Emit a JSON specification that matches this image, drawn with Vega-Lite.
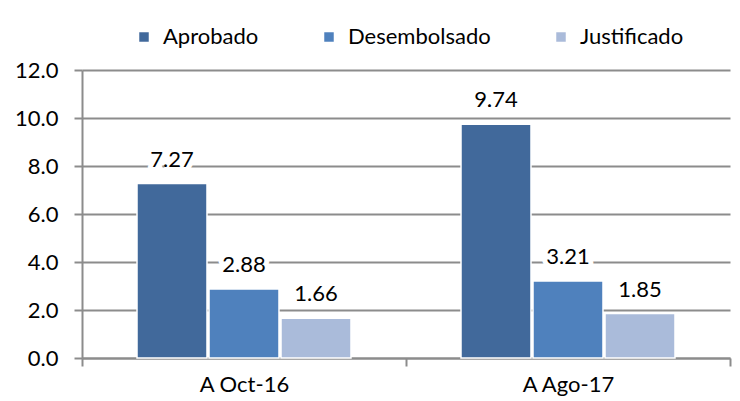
{
  "$schema": "https://vega.github.io/schema/vega-lite/v6.json",
  "width": 648,
  "height": 288,
  "padding": {"left": 14, "top": 26, "right": 10, "bottom": 5},
  "background": "white",
  "config": {
    "font": "Lato",
    "view": {"stroke": null},
    "axis": {"labelFont": "Lato", "labelFontSize": 22, "labelColor": "#000000", "domainColor": "#8c8c8c", "tickColor": "#8c8c8c", "gridColor": "#8c8c8c", "domainWidth": 2, "tickWidth": 2, "gridWidth": 2}
  },
  "data": {
    "values": [
      {"periodo": "A Oct-16", "serie": "Aprobado", "valor": 7.27},
      {"periodo": "A Oct-16", "serie": "Desembolsado", "valor": 2.88},
      {"periodo": "A Oct-16", "serie": "Justificado", "valor": 1.66},
      {"periodo": "A Ago-17", "serie": "Aprobado", "valor": 9.74},
      {"periodo": "A Ago-17", "serie": "Desembolsado", "valor": 3.21},
      {"periodo": "A Ago-17", "serie": "Justificado", "valor": 1.85}
    ]
  },
  "encoding": {
    "x": {"field": "periodo", "type": "nominal", "sort": ["A Oct-16", "A Ago-17"], "title": null,
      "scale": {"paddingInner": 0, "paddingOuter": 0},
      "axis": {"labelAngle": 0, "tickBand": "extent", "tickSize": 8, "labelPadding": 8, "grid": false, "domain": true}},
    "xOffset": {"field": "serie", "type": "nominal", "sort": ["Aprobado", "Desembolsado", "Justificado"],
      "scale": {"paddingInner": 0.028, "paddingOuter": 0.764}},
    "y": {"field": "valor", "type": "quantitative", "title": null,
      "scale": {"domain": [0, 12], "nice": false},
      "axis": {"values": [0, 2, 4, 6, 8, 10, 12], "format": ".1f", "tickSize": 8, "labelPadding": 16, "grid": true, "domain": true}}
  },
  "layer": [
    {
      "mark": {"type": "bar", "stroke": "white", "strokeWidth": 1.5},
      "encoding": {
        "color": {"field": "serie", "type": "nominal", "sort": ["Aprobado", "Desembolsado", "Justificado"],
          "scale": {"domain": ["Aprobado", "Desembolsado", "Justificado"], "range": ["#41699b", "#4f81bd", "#aabbda"]},
          "legend": {"orient": "none", "legendX": 51, "legendY": -44, "direction": "horizontal", "title": null, "symbolType": "square", "symbolSize": 90, "symbolStrokeWidth": 0,
            "labelFontSize": 22, "labelFont": "Lato", "labelColor": "#000000", "columnPadding": 59, "labelOffset": 8}}
      }
    },
    {
      "mark": {"type": "text", "fontSize": 22, "font": "Lato", "color": "#000000", "stroke": "white", "strokeWidth": 10, "strokeJoin": "round", "baseline": "middle", "dy": -24},
      "encoding": {"text": {"field": "valor", "type": "quantitative", "format": ".2f"}}
    },
    {
      "mark": {"type": "text", "fontSize": 22, "font": "Lato", "color": "#000000", "baseline": "middle", "dy": -24},
      "encoding": {"text": {"field": "valor", "type": "quantitative", "format": ".2f"}}
    }
  ]
}
